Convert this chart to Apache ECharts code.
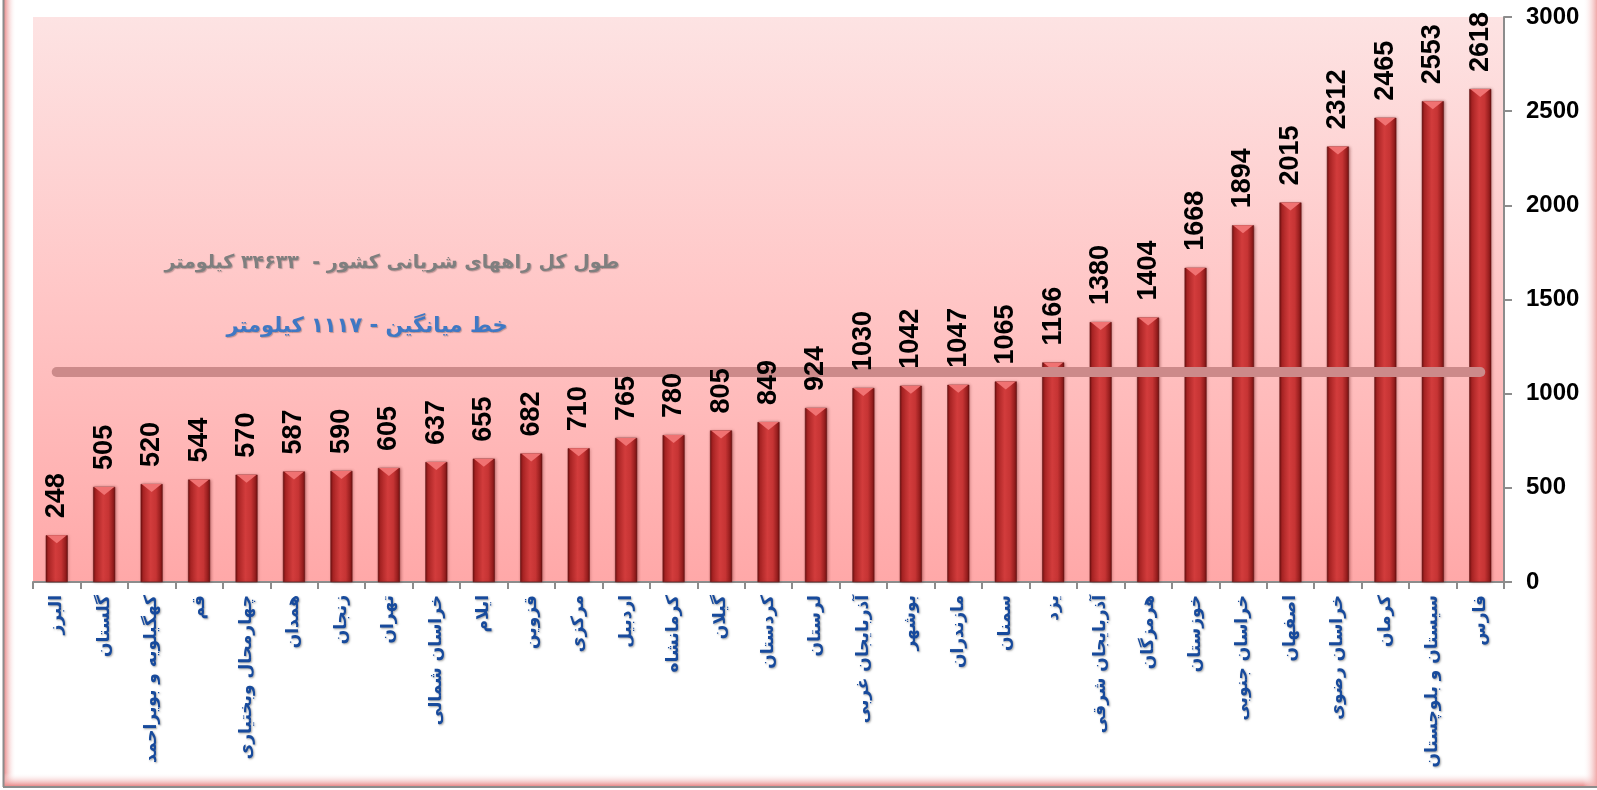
<!DOCTYPE html>
<html>
<head>
<meta charset="utf-8">
<script src="https://cdn.jsdelivr.net/npm/echarts@6/dist/echarts.min.js"></script>
<style>html,body{margin:0;padding:0;background:#fff;}#c{width:1597px;height:790px;}</style>
</head>
<body>
<div id="c"></div>
<script>
const provinces = ['البرز','گلستان','کهگیلویه و بویراحمد','قم','چهارمحال وبختیاری','همدان','زنجان','تهران','خراسان شمالی','ایلام','قزوین','مرکزی','اردبیل','کرمانشاه','گیلان','کردستان','لرستان','آذربایجان غربی','بوشهر','مازندران','سمنان','یزد','آذربایجان شرقی','هرمزگان','خوزستان','خراسان جنوبی','اصفهان','خراسان رضوی','کرمان','سیستان و بلوچستان','فارس'];
const roadLength = [248,505,520,544,570,587,590,605,637,655,682,710,765,780,805,849,924,1030,1042,1047,1065,1166,1380,1404,1668,1894,2015,2312,2465,2553,2618];
const meanValue = 1117;
const yTicks = [0,500,1000,1500,2000,2500,3000];
const noteTotal = 'طول کل راههای شریانی کشور -  ۳۴۶۳۳ کیلومتر';
const noteMean = 'خط میانگین - ۱۱۱۷ کیلومتر';

const chart = echarts.init(document.getElementById('c'));
const persianFont = '"DejaVu Sans", "Noto Sans", sans-serif';
const barGrad = new echarts.graphic.LinearGradient(0,0,1,0,[
  {offset:0,color:'#6e1212'},{offset:0.12,color:'#a82424'},{offset:0.45,color:'#d23c3c'},
  {offset:0.7,color:'#c63434'},{offset:0.9,color:'#961e1e'},{offset:1,color:'#6e1212'}]);

chart.setOption({
  animation:false,
  backgroundColor:'#ffffff',
  grid:{left:33,right:93,top:17,bottom:208,containLabel:false,outerBoundsMode:'none',show:true,
    borderWidth:0,
    backgroundColor:new echarts.graphic.LinearGradient(0,0,0,1,[
      {offset:0,color:'#fde3e3'},{offset:0.5,color:'#ffc6c6'},{offset:1,color:'#ffa8a8'}])},
  xAxis:{type:'category',data:provinces,
    axisLine:{lineStyle:{color:'#8c8c8c',width:2}},
    axisTick:{show:true,length:7,lineStyle:{color:'#8c8c8c',width:2}},
    axisLabel:{rotate:90,margin:13,interval:0,color:'#174a9c',fontWeight:'bold',fontSize:17,fontFamily:persianFont,
      textShadowColor:'rgba(0,0,0,0.35)',textShadowBlur:2,textShadowOffsetX:1,textShadowOffsetY:1}},
  yAxis:{type:'value',position:'right',min:0,max:3000,interval:500,
    splitLine:{show:false},
    axisLine:{show:true,lineStyle:{color:'#8c8c8c',width:2}},
    axisTick:{show:true,length:8,lineStyle:{color:'#8c8c8c',width:2}},
    axisLabel:{margin:22,color:'#000',fontWeight:'bold',fontSize:24,fontFamily:'Arial, "Liberation Sans", sans-serif',
      formatter:v=>yTicks.includes(v)?String(v):''}},
  series:[
    {type:'bar',data:roadLength,barWidth:22,barGap:'-100%',z:2,
      itemStyle:{color:barGrad,borderColor:'#5a0e0e',borderWidth:0.5,shadowColor:'rgba(90,0,0,0.35)',shadowBlur:3,shadowOffsetX:1},
      markLine:{silent:true,symbol:'none',label:{show:false},z:5,
        lineStyle:{color:'#cc8a8a',width:10,type:'solid',cap:'round'},
        data:[[{coord:[0,meanValue]},{coord:[provinces.length-1,meanValue]}]]}
    },
    {type:'pictorialBar',data:roadLength,symbol:'path://M0,0 L20,0 L10,8 Z',symbolSize:[20,8],
      symbolPosition:'end',z:3,silent:true,
      itemStyle:{color:'#f07272'}},
    {type:'bar',data:roadLength,barWidth:22,barGap:'-100%',z:10,silent:true,
      itemStyle:{color:'rgba(0,0,0,0)'},
      label:{show:true,position:'top',rotate:90,align:'left',verticalAlign:'middle',distance:17,
        color:'#000',fontWeight:'bold',fontSize:27,fontFamily:'Arial, "Liberation Sans", sans-serif',formatter:'{c}'}}
  ],
  graphic:[
    {type:'rect',shape:{x:4,y:0,width:12,height:787},style:{fill:new echarts.graphic.LinearGradient(0,0,1,0,[{offset:0,color:'#e98a8a'},{offset:1,color:'rgba(255,255,255,0)'}])},silent:true,z:-1},
    {type:'rect',shape:{x:4,y:773,width:1593,height:13},style:{fill:new echarts.graphic.LinearGradient(0,0,0,1,[{offset:0,color:'rgba(255,255,255,0)'},{offset:1,color:'#e98a8a'}])},silent:true,z:-1},
    {type:'rect',shape:{x:1583,y:0,width:14,height:787},style:{fill:new echarts.graphic.LinearGradient(0,0,1,0,[{offset:0,color:'rgba(255,255,255,0)'},{offset:1,color:'#f0a8a8'}])},silent:true,z:-1},
    {type:'line',shape:{x1:3.5,y1:0,x2:3.5,y2:787},style:{stroke:'#8c8c8c',lineWidth:2},silent:true},
    {type:'line',shape:{x1:3,y1:787,x2:1597,y2:787},style:{stroke:'#8c8c8c',lineWidth:2},silent:true},
    {type:'text',x:392,y:263,silent:true,z:10,style:{text:noteTotal,fill:'#7f7f7f',font:'bold 19px '+persianFont,align:'center',verticalAlign:'middle',
      textShadowColor:'rgba(0,0,0,0.25)',textShadowBlur:1,textShadowOffsetX:1,textShadowOffsetY:1}},
    {type:'text',x:367,y:327,silent:true,z:10,style:{text:noteMean,fill:'#3f78c4',font:'bold 21px '+persianFont,align:'center',verticalAlign:'middle',
      textShadowColor:'rgba(0,0,0,0.25)',textShadowBlur:1,textShadowOffsetX:1,textShadowOffsetY:1}}
  ]
});
</script>
</body>
</html>
